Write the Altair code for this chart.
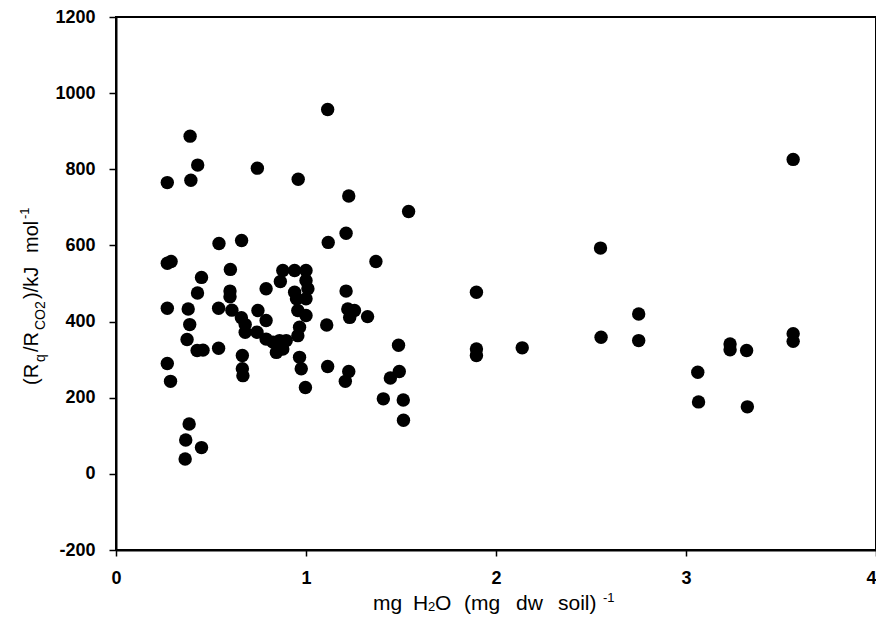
import altair as alt
import pandas as pd

# mg H2O (mg dw soil)^-1
water = [
    1.114, 0.39, 0.43, 0.27, 0.394, 0.744, 0.959, 1.225, 1.211, 1.117,
    0.542, 0.661, 0.27, 0.29, 0.45, 0.602,
    0.878, 0.94, 1.0, 0.865, 1.0, 1.01, 0.94, 1.0, 0.95, 0.957,
    1.0, 0.966, 0.957, 0.79, 0.747, 0.79, 0.66, 0.68, 0.68, 0.742,
    0.79, 0.826, 0.861, 0.896, 0.844, 0.878, 0.54, 0.61, 0.60, 0.60,
    0.27, 0.38, 0.429, 0.388, 0.374, 0.427, 0.458, 0.54, 0.665, 0.665,
    0.668, 0.966, 0.975, 0.997, 1.114, 0.27, 0.287, 1.225, 1.207, 0.385,
    0.367, 0.45, 0.364, 1.211, 1.22, 1.255, 1.23, 1.324, 1.109, 1.368,
    1.54, 1.897, 1.487, 1.897, 1.897, 2.138, 1.491, 1.444, 1.407, 1.512,
    1.513, 3.564, 2.55, 2.751, 2.553, 2.751, 3.232, 3.232, 3.319, 3.564,
    3.564, 3.062, 3.066, 3.323,
]

# (Rq/RCO2) / kJ mol^-1
ratio = [
    957, 887, 811, 765, 771, 803, 774, 730, 632, 608,
    605, 613, 553, 558, 516, 537,
    534, 534, 534, 505, 508, 486, 477, 460, 460, 429,
    416, 385, 363, 486, 429, 403, 410, 392, 372, 372,
    354, 346, 350, 350, 319, 328, 435, 430, 480, 465,
    435, 433, 475, 392, 353, 324, 325, 330, 311, 276,
    258, 306, 276, 227, 282, 290, 243, 269, 243, 131,
    89, 69, 39, 480, 433, 429, 411, 413, 391, 558,
    689, 477, 338, 328, 311, 331, 269, 252, 197, 194,
    141, 826, 593, 420, 359, 350, 341, 326, 324, 368,
    348, 267, 189, 176,
]

x_ticks = [0, 1, 2, 3, 4]
y_ticks = [-200, 0, 200, 400, 600, 800, 1000, 1200]

FONT = "Liberation Sans"

df = pd.DataFrame({"water": water, "ratio": ratio})

points = alt.Chart(df).mark_circle(size=180, color="black", opacity=1).encode(
    x=alt.X(
        "water:Q",
        scale=alt.Scale(domain=[0, 4], nice=False, zero=False),
        axis=alt.Axis(values=x_ticks, title=None, tickSize=6, labelPadding=13,
                      format="d",
                      labelAlign={"expr": "datum.value == 4 ? 'right' : 'center'"}),
    ),
    y=alt.Y(
        "ratio:Q",
        scale=alt.Scale(domain=[-200, 1200], nice=False, zero=False),
        axis=alt.Axis(values=y_ticks, title=None, tickSize=7, labelPadding=14,
                      labelExpr="'' + datum.value"),
    ),
)

# Axis titles built from pieces so that sub/superscripts can be shown
# (text, x, y, size, angle)
title_pieces = [
    # y title (reads bottom to top)
    ("(R", -78, 368, 20, 270),
    ("q", -71, 345, 14, 270),
    ("/R", -78, 335, 20, 270),
    ("CO2", -71, 313, 14, 270),
    (")/kJ", -78, 282, 20, 270),
    ("mol", -78, 236, 20, 270),
    ("-1", -87, 202, 13, 270),
    # x title
    ("mg", 257, 593, 21, 0),
    ("H", 297, 593, 21, 0),
    ("2", 312, 594, 13, 0),
    ("O", 319, 593, 21, 0),
    ("(mg", 348, 593, 21, 0),
    ("dw", 400, 593, 21, 0),
    ("soil)", 442, 593, 21, 0),
    ("-1", 487, 585, 13, 0),
]

dummy = pd.DataFrame({"d": [0]})
texts = []
for s, px, py, fs, ang in title_pieces:
    texts.append(
        alt.Chart(dummy).mark_text(
            align="left", baseline="alphabetic", fontSize=fs, font=FONT,
            angle=ang, color="black",
        ).encode(x=alt.value(px), y=alt.value(py), text=alt.value(s))
    )

chart = alt.layer(points, *texts).properties(
    width=760,
    height=533,
    padding={"left": 108, "top": 9, "right": 0, "bottom": 64},
    autosize=alt.AutoSizeParams(type="none"),
    background="white",
).configure_view(
    stroke="black", strokeWidth=2
).configure_axis(
    grid=False,
    domainColor="black",
    domainWidth=2,
    tickColor="black",
    tickWidth=1.5,
    labelFont=FONT,
    labelFontSize=18,
    labelFontWeight="bold",
    labelColor="black",
)

chart.save("out.html", embed_options={"renderer": "svg", "actions": False})
